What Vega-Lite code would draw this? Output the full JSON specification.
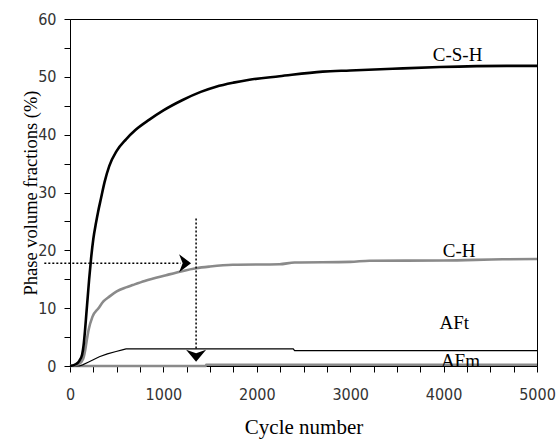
{
  "$schema": "https://vega.github.io/schema/vega-lite/v6.json",
  "width": 467,
  "height": 347,
  "autosize": "none",
  "padding": {"left": 70, "top": 19, "right": 23, "bottom": 74},
  "background": "white",
  "config": {
    "view": {"stroke": "black", "strokeWidth": 1},
    "axis": {
      "grid": false,
      "domainColor": "black",
      "tickColor": "black",
      "tickSize": 6,
      "labelColor": "#333",
      "labelFont": "DejaVu Sans Condensed, Liberation Sans Narrow, sans-serif",
      "labelFontSize": 16,
      "labelFlush": false,
      "labelOverlap": false,
      "labelBound": false,
      "titleFont": "Liberation Serif, Times New Roman, serif",
      "titleFontWeight": "normal",
      "titleColor": "black"
    }
  },
  "datasets": {
    "curves": [
      {"series": "C-S-H", "cycle": 0, "value": 0},
      {"series": "C-S-H", "cycle": 60, "value": 0.3},
      {"series": "C-S-H", "cycle": 100, "value": 0.9},
      {"series": "C-S-H", "cycle": 130, "value": 2},
      {"series": "C-S-H", "cycle": 145, "value": 3.5},
      {"series": "C-S-H", "cycle": 160, "value": 6},
      {"series": "C-S-H", "cycle": 175, "value": 9},
      {"series": "C-S-H", "cycle": 190, "value": 12},
      {"series": "C-S-H", "cycle": 205, "value": 15},
      {"series": "C-S-H", "cycle": 225, "value": 18.5},
      {"series": "C-S-H", "cycle": 250, "value": 22},
      {"series": "C-S-H", "cycle": 279, "value": 24.8},
      {"series": "C-S-H", "cycle": 300, "value": 26.6},
      {"series": "C-S-H", "cycle": 332, "value": 29},
      {"series": "C-S-H", "cycle": 370, "value": 31.8},
      {"series": "C-S-H", "cycle": 421, "value": 34.6},
      {"series": "C-S-H", "cycle": 500, "value": 37.2},
      {"series": "C-S-H", "cycle": 600, "value": 39.2},
      {"series": "C-S-H", "cycle": 700, "value": 40.8},
      {"series": "C-S-H", "cycle": 850, "value": 42.6},
      {"series": "C-S-H", "cycle": 1000, "value": 44.2},
      {"series": "C-S-H", "cycle": 1206, "value": 46},
      {"series": "C-S-H", "cycle": 1400, "value": 47.4},
      {"series": "C-S-H", "cycle": 1564, "value": 48.3},
      {"series": "C-S-H", "cycle": 1750, "value": 49},
      {"series": "C-S-H", "cycle": 1921, "value": 49.5},
      {"series": "C-S-H", "cycle": 2243, "value": 50.1},
      {"series": "C-S-H", "cycle": 2705, "value": 50.9},
      {"series": "C-S-H", "cycle": 3000, "value": 51.1},
      {"series": "C-S-H", "cycle": 3455, "value": 51.4},
      {"series": "C-S-H", "cycle": 3958, "value": 51.7},
      {"series": "C-S-H", "cycle": 4676, "value": 51.9},
      {"series": "C-S-H", "cycle": 5000, "value": 51.9},
      {"series": "C-H", "cycle": 0, "value": 0},
      {"series": "C-H", "cycle": 100, "value": 0.4},
      {"series": "C-H", "cycle": 140, "value": 1.2},
      {"series": "C-H", "cycle": 160, "value": 2.5},
      {"series": "C-H", "cycle": 180, "value": 4.5},
      {"series": "C-H", "cycle": 200, "value": 6.3},
      {"series": "C-H", "cycle": 240, "value": 8.5},
      {"series": "C-H", "cycle": 305, "value": 10},
      {"series": "C-H", "cycle": 360, "value": 11.2},
      {"series": "C-H", "cycle": 421, "value": 12},
      {"series": "C-H", "cycle": 500, "value": 12.9},
      {"series": "C-H", "cycle": 600, "value": 13.6},
      {"series": "C-H", "cycle": 671, "value": 14},
      {"series": "C-H", "cycle": 800, "value": 14.7},
      {"series": "C-H", "cycle": 1029, "value": 15.7},
      {"series": "C-H", "cycle": 1200, "value": 16.4},
      {"series": "C-H", "cycle": 1350, "value": 16.9},
      {"series": "C-H", "cycle": 1500, "value": 17.2},
      {"series": "C-H", "cycle": 1743, "value": 17.5},
      {"series": "C-H", "cycle": 2243, "value": 17.6},
      {"series": "C-H", "cycle": 2405, "value": 17.9},
      {"series": "C-H", "cycle": 3000, "value": 18.0},
      {"series": "C-H", "cycle": 3208, "value": 18.2},
      {"series": "C-H", "cycle": 4000, "value": 18.25},
      {"series": "C-H", "cycle": 4633, "value": 18.45},
      {"series": "C-H", "cycle": 5000, "value": 18.5},
      {"series": "AFt", "cycle": 0, "value": 0},
      {"series": "AFt", "cycle": 100, "value": 0},
      {"series": "AFt", "cycle": 135, "value": 0.2},
      {"series": "AFt", "cycle": 200, "value": 0.7},
      {"series": "AFt", "cycle": 314, "value": 1.6},
      {"series": "AFt", "cycle": 400, "value": 2.1},
      {"series": "AFt", "cycle": 493, "value": 2.5},
      {"series": "AFt", "cycle": 560, "value": 2.8},
      {"series": "AFt", "cycle": 600, "value": 2.95},
      {"series": "AFt", "cycle": 2390, "value": 2.95},
      {"series": "AFt", "cycle": 2405, "value": 2.65},
      {"series": "AFt", "cycle": 5000, "value": 2.65},
      {"series": "AFm", "cycle": 0, "value": 0},
      {"series": "AFm", "cycle": 1450, "value": 0},
      {"series": "AFm", "cycle": 1460, "value": 0.2},
      {"series": "AFm", "cycle": 5000, "value": 0.2}
    ],
    "labels": [
      {"label": "C-S-H", "cycle": 4150, "value": 52.7},
      {"label": "C-H", "cycle": 4166, "value": 18.85},
      {"label": "AFt", "cycle": 4114, "value": 6.4},
      {"label": "AFm", "cycle": 4180, "value": -0.2}
    ]
  },
  "encoding": {
    "x": {
      "field": "cycle", "type": "quantitative",
      "scale": {"domain": [0, 5000], "nice": false, "zero": false},
      "axis": {
        "title": "Cycle number",
        "titleFontSize": 21,
        "titlePadding": 14,
        "labelPadding": 14,
        "values": [0, 250, 500, 750, 1000, 1250, 1500, 1750, 2000, 2250, 2500, 2750, 3000, 3250, 3500, 3750, 4000, 4250, 4500, 4750, 5000],
        "labelExpr": "datum.value % 1000 === 0 ? datum.label : ''",
        "format": "d"
      }
    },
    "y": {
      "field": "value", "type": "quantitative",
      "scale": {"domain": [0, 60], "nice": false, "zero": false},
      "axis": {
        "title": "Phase volume fractions (%)",
        "titleFontSize": 18.5,
        "titlePadding": -3,
        "labelPadding": 8,
        "values": [0, 5, 10, 15, 20, 25, 30, 35, 40, 45, 50, 55, 60],
        "labelExpr": "datum.value % 10 === 0 ? datum.label : ''"
      }
    }
  },
  "layer": [
    {
      "data": {"name": "curves"},
      "transform": [{"filter": "datum.series === 'AFm'"}],
      "mark": {"type": "line", "color": "#8a8a8a", "strokeWidth": 2.5},
      "encoding": {"order": {"field": "cycle", "type": "quantitative"}}
    },
    {
      "data": {"name": "curves"},
      "transform": [{"filter": "datum.series === 'AFt'"}],
      "mark": {"type": "line", "color": "black", "strokeWidth": 1.2},
      "encoding": {"order": {"field": "cycle", "type": "quantitative"}}
    },
    {
      "data": {"name": "curves"},
      "transform": [{"filter": "datum.series === 'C-H'"}],
      "mark": {"type": "line", "color": "#8a8a8a", "strokeWidth": 2.6, "interpolate": "monotone"},
      "encoding": {"order": {"field": "cycle", "type": "quantitative"}}
    },
    {
      "data": {"name": "curves"},
      "transform": [{"filter": "datum.series === 'C-S-H'"}],
      "mark": {"type": "line", "color": "black", "strokeWidth": 2.6, "interpolate": "monotone"},
      "encoding": {"order": {"field": "cycle", "type": "quantitative"}}
    },
    {
      "data": {"values": [{"cycle": -275, "cycle2": 1185, "value": 17.76}]},
      "mark": {"type": "rule", "color": "black", "strokeWidth": 1.5, "strokeDash": [2, 2]},
      "encoding": {
        "x2": {"field": "cycle2"}
      }
    },
    {
      "data": {"values": [{"cycle": 1350, "value": 25.5, "value2": 2.8}]},
      "mark": {"type": "rule", "color": "black", "strokeWidth": 1.5, "strokeDash": [2, 2]},
      "encoding": {
        "y2": {"field": "value2"}
      }
    },
    {
      "data": {"values": [{"cycle": 1232, "value": 17.76}]},
      "mark": {"type": "point", "filled": true, "color": "black", "opacity": 1, "size": 144, "shape": "M 1 0 L -1 -1.5 L -0.4 0 L -1 1.5 Z"}
    },
    {
      "data": {"values": [{"cycle": 1350, "value": 1.78}]},
      "mark": {"type": "point", "filled": true, "color": "black", "opacity": 1, "size": 144, "shape": "M 0 1 L -1.67 -1 L 0 -0.4 L 1.67 -1 Z"}
    },
    {
      "data": {"name": "labels"},
      "mark": {"type": "text", "font": "Liberation Serif, Times New Roman, serif", "fontSize": 19, "color": "black", "align": "center", "baseline": "alphabetic"},
      "encoding": {
        "text": {"field": "label"}
      }
    }
  ]
}
